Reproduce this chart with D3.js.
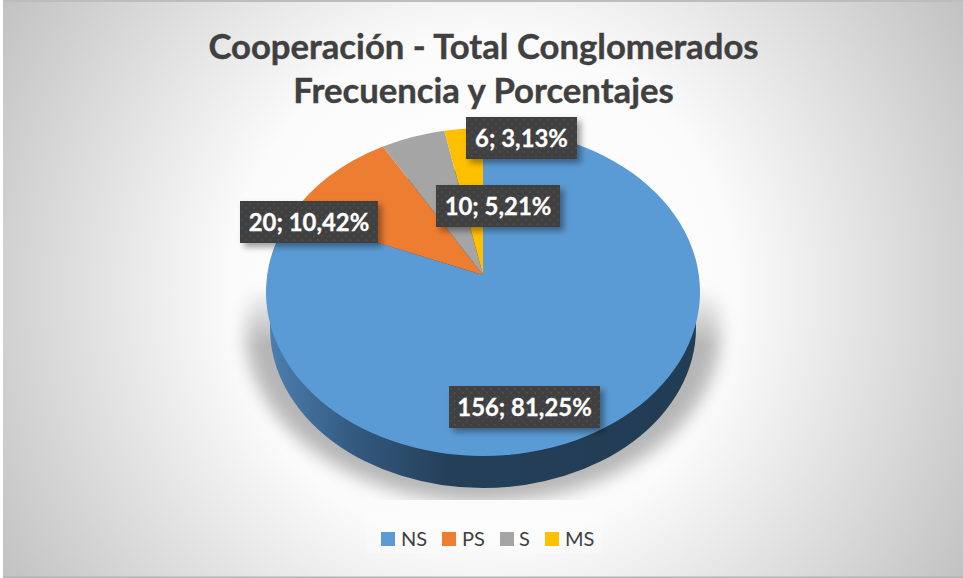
<!DOCTYPE html>
<html>
<head>
<meta charset="utf-8">
<script src="https://cdn.jsdelivr.net/npm/d3@7"></script>
<style>
html,body{margin:0;padding:0;background:#fff;overflow:hidden}
svg{display:block}
text{font-family:Lato,"Open Sans",sans-serif}
</style>
</head>
<body>
<div id="chart"></div>
<script>
const titleLines = ["Cooperación - Total Conglomerados", "Frecuencia y Porcentajes"];
const categories = ["NS", "PS", "S", "MS"];
const values = [156, 20, 10, 6];
const colors = ["#5B9BD5", "#ED7D31", "#A5A5A5", "#FFC000"];
const labelBoxes = [[449, 386, 151], [240, 201, 138], [436, 185, 124], [466, 117, 111]];
const legendItems = [[381, 401], [442, 462], [500, 519], [545, 565]];

const W = 963, H = 578;
const svg = d3.select("#chart").append("svg").attr("width", W).attr("height", H);
const defs = svg.append("defs");

const bg = defs.append("radialGradient").attr("id", "bg").attr("gradientUnits", "userSpaceOnUse")
  .attr("cx", 483).attr("cy", 290).attr("r", 560);
bg.append("stop").attr("offset", 0).attr("stop-color", "#ffffff");
bg.append("stop").attr("offset", 0.45).attr("stop-color", "#fbfbfb");
bg.append("stop").attr("offset", 1).attr("stop-color", "#c2c2c2");

const side = defs.append("linearGradient").attr("id", "side").attr("gradientUnits", "userSpaceOnUse")
  .attr("x1", 268).attr("x2", 700).attr("y1", 0).attr("y2", 0);
side.append("stop").attr("offset", 0).attr("stop-color", "#4c80b0");
side.append("stop").attr("offset", 0.2).attr("stop-color", "#33597f");
side.append("stop").attr("offset", 0.42).attr("stop-color", "#243f58");
side.append("stop").attr("offset", 1).attr("stop-color", "#213c53");

const blur = defs.append("filter").attr("id", "soft").attr("x", "-20%").attr("y", "-20%").attr("width", "140%").attr("height", "140%");
blur.append("feGaussianBlur").attr("stdDeviation", 9);
const dshadow = defs.append("filter").attr("id", "box").attr("x", "-15%").attr("y", "-25%").attr("width", "130%").attr("height", "160%");
dshadow.append("feDropShadow").attr("dx", 4).attr("dy", 4).attr("stdDeviation", 3).attr("flood-color", "#000").attr("flood-opacity", 0.38);

const dots = defs.append("pattern").attr("id", "dots").attr("width", 8).attr("height", 8).attr("patternUnits", "userSpaceOnUse");
dots.append("rect").attr("width", 8).attr("height", 8).attr("fill", "#404040");
dots.append("rect").attr("x", 1).attr("y", 2).attr("width", 2).attr("height", 2).attr("fill", "#4c4c4c");
dots.append("rect").attr("x", 5).attr("y", 6).attr("width", 2).attr("height", 2).attr("fill", "#4c4c4c");

const fade = defs.append("linearGradient").attr("id", "fade").attr("gradientUnits", "userSpaceOnUse")
  .attr("x1", 0).attr("x2", 0).attr("y1", 285).attr("y2", 345);
fade.append("stop").attr("offset", 0).attr("stop-color", "#fff").attr("stop-opacity", 0);
fade.append("stop").attr("offset", 1).attr("stop-color", "#fff").attr("stop-opacity", 1);
const shadowMask = defs.append("mask").attr("id", "shadowMask").attr("maskUnits", "userSpaceOnUse")
  .attr("x", 230).attr("y", 285).attr("width", 510).attr("height", 215);
shadowMask.append("rect").attr("x", 230).attr("y", 285).attr("width", 510).attr("height", 215).attr("fill", "url(#fade)");

svg.append("rect").attr("width", W).attr("height", H).attr("fill", "#fff");
svg.append("rect").attr("x", 3).attr("y", 0).attr("width", W - 3).attr("height", H).attr("fill", "url(#bg)");
svg.append("rect").attr("x", 3).attr("y", 0).attr("width", W - 3).attr("height", 2).attr("fill", "#bdbdbd");
svg.append("rect").attr("x", 3).attr("y", H - 1.5).attr("width", W - 3).attr("height", 1.5).attr("fill", "#b4b4b4");

// title
svg.append("g").selectAll("text").data(titleLines).join("text")
  .attr("x", 483.5).attr("y", (d, i) => 59 + i * 44)
  .attr("text-anchor", "middle").attr("font-size", 34.7).attr("font-weight", 700).attr("fill", "#404040")
  .attr("stroke", "#404040").attr("stroke-width", 0.4)
  .text(d => d);

// pie geometry: elliptical top with an off-centre apex (perspective)
const cx = 483, cy = 292, rx = 217, ry = 164, apexY = 275, dirY = 161;
const depthCy = 328, depthRx = 213, depthRy = 160;

// slices run clockwise from NS at 12 o'clock, so MS ends back at the top
const arcs = d3.pie().value(d => d).sort(null).startAngle(0).endAngle(2 * Math.PI)(values);

function rim(angle) {
  const dx = rx * Math.sin(angle), dy = -dirY * Math.cos(angle);
  const oy = apexY - cy;
  const A = dx * dx / (rx * rx) + dy * dy / (ry * ry);
  const B = 2 * (oy * dy / (ry * ry));
  const C = oy * oy / (ry * ry) - 1;
  const t = (-B + Math.sqrt(B * B - 4 * A * C)) / (2 * A);
  return [cx + t * dx, apexY + t * dy];
}
function slicePath(d) {
  const p0 = rim(d.startAngle), p1 = rim(d.endAngle);
  const big = d.endAngle - d.startAngle > Math.PI ? 1 : 0;
  return `M${cx},${apexY}L${p0[0]},${p0[1]}A${rx},${ry} 0 ${big} 1 ${p1[0]},${p1[1]}Z`;
}

// soft shadow under the pie
svg.append("g").attr("mask", "url(#shadowMask)")
  .append("ellipse").attr("cx", cx).attr("cy", depthCy + 2).attr("rx", depthRx + 24).attr("ry", depthRy + 12)
  .attr("fill", "#000").attr("opacity", 0.28).attr("filter", "url(#soft)");

// faint lighter panel behind the legend
svg.append("rect").attr("x", 365).attr("y", 516).attr("width", 238).attr("height", 37)
  .attr("fill", "#fff").attr("opacity", 0.25);

svg.append("ellipse").attr("cx", cx).attr("cy", depthCy).attr("rx", depthRx).attr("ry", depthRy).attr("fill", "url(#side)");

svg.append("g").selectAll("path").data(arcs).join("path")
  .attr("d", slicePath)
  .attr("fill", (d, i) => colors[i]);

// data labels
const fmt = d3.formatLocale({decimal: ",", thousands: ".", grouping: [3], currency: ["", ""]}).format(".2f");
const total = d3.sum(values);
const labels = svg.append("g").selectAll("g").data(values).join("g")
  .attr("transform", (d, i) => `translate(${labelBoxes[i][0]},${labelBoxes[i][1]})`);
labels.append("rect").attr("width", (d, i) => labelBoxes[i][2]).attr("height", 42)
  .attr("fill", "url(#dots)").attr("filter", "url(#box)");
labels.append("text").attr("x", (d, i) => labelBoxes[i][2] / 2).attr("y", 30)
  .attr("text-anchor", "middle").attr("font-size", 23.9).attr("font-weight", 700).attr("fill", "#fff")
  .attr("stroke", "#fff").attr("stroke-width", 0.3)
  .text(d => `${d}; ${fmt(d / total * 100)}%`);

// legend
const legend = svg.append("g").selectAll("g").data(categories).join("g");
legend.append("rect").attr("x", (d, i) => legendItems[i][0]).attr("y", 532).attr("width", 14).attr("height", 14)
  .attr("fill", (d, i) => colors[i]);
legend.append("text").attr("x", (d, i) => legendItems[i][1]).attr("y", 546)
  .attr("font-size", 20).attr("fill", "#404040").text(d => d);
</script>
</body>
</html>
